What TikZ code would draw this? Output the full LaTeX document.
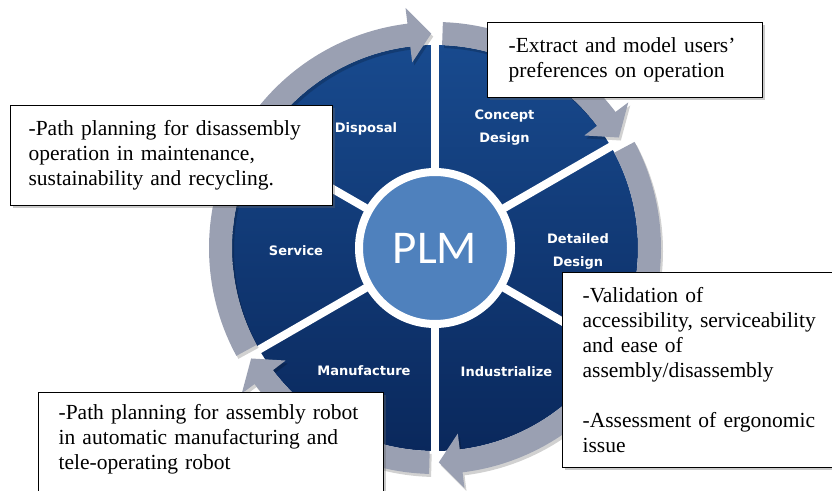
\documentclass[tikz,border=0pt]{standalone}
\usepackage{fontspec}
\setmainfont{Liberation Serif}
\newfontfamily\segfont{DejaVu Sans}
\newfontfamily\plmfont{Carlito}
\usetikzlibrary{shadows}
\definecolor{diskTop}{RGB}{24,74,142}
\definecolor{diskBot}{RGB}{10,40,92}
\definecolor{ringgray}{RGB}{154,160,178}
\definecolor{plmblue}{RGB}{79,129,189}
\begin{document}
\begin{tikzpicture}[x=1pt,y=1pt,
  seg/.style={text=white, font=\segfont\bfseries\fontsize{13}{23}\selectfont, align=center, inner sep=0pt},
  note/.style={draw=black, line width=1.2pt, fill=white, anchor=north west, align=left,
    font=\fontsize{21.5}{25}\selectfont, text=black,
    drop shadow={shadow xshift=2pt, shadow yshift=-2pt, opacity=0.35, fill=black!60}},
  ringarrow/.style={fill=ringgray}]
\useasboundingbox (0,0) rectangle (832,490);
\clip (0,0) rectangle (832,490);
\coordinate (C) at (435,242);
% disk
\shade[top color=diskTop, bottom color=diskBot] (C) circle (203);
% spokes
\foreach \a in {90,30,-30,-90,-150,150}
  \draw[white, line width=8pt] (C) -- ++(\a:206);
% ring arrows
\begin{scope}[shift={(C)}]
\foreach \s/\e in {208.5/91, 88/31, 28/-89, -91.5/-149} {
  \fill[black, opacity=0.18, shift={(2,-3)}] (\s:226) arc[start angle=\s, end angle=\e+6, radius=226]
     -- ({\e+6}:242) -- (\e:214.5) -- ({\e+6}:187) -- ({\e+6}:203)
     arc[start angle=\e+6, end angle=\s, radius=203] -- cycle;
  \fill[ringarrow] (\s:226) arc[start angle=\s, end angle=\e+6, radius=226]
     -- ({\e+6}:242) -- (\e:214.5) -- ({\e+6}:187) -- ({\e+6}:203)
     arc[start angle=\e+6, end angle=\s, radius=203] -- cycle;
}
% segment labels
\node[seg] (disposal) at (120:138) {Disposal};
\node[seg] (concept) at (60:139) {Concept\\Design};
\node[seg] (detailed) at (143,-3) {Detailed\\Design};
\node[seg] (industrialize) at (-60:143) {Industrialize};
\node[seg] (manufacture) at (-120:142) {Manufacture};
\node[seg] (service) at (-139,-3) {Service};
\end{scope}
% center
\node[circle, fill=plmblue, draw=white, line width=8pt, minimum size=152pt, inner sep=0pt,
  text=white, font=\plmfont\fontsize{47}{47}\selectfont] (plm) at (C) {PLM};
% notes
\node[note, minimum height=75pt, inner xsep=21pt, text width=233pt] (b1) at (487,468)
  {-Extract and model users’\\preferences on operation};
\node[note, minimum height=100pt, inner xsep=18pt, text width=286pt] (b2) at (10,385)
  {-Path planning for disassembly\\operation in maintenance,\\sustainability and recycling.};
\node[note, minimum height=195pt, inner xsep=20pt, text width=248pt] (b3) at (562,218)
  {-Validation of\\accessibility, serviceability\\and ease of\\assembly/disassembly\\[25pt]-Assessment of ergonomic\\issue};
\node[note, minimum height=114pt, inner xsep=20pt, text width=305pt] (b4) at (38,98)
  {-Path planning for assembly robot\\in automatic manufacturing and\\tele-operating robot\\ \mbox{}};
\end{tikzpicture}
\end{document}
